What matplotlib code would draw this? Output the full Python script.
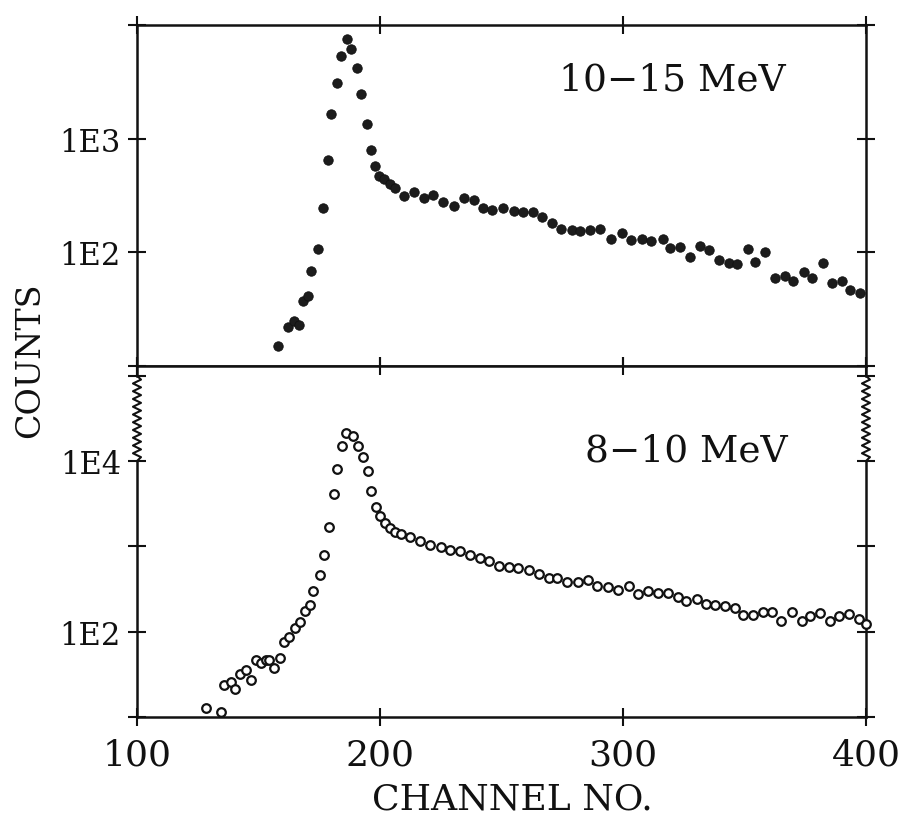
import numpy as np
import matplotlib
matplotlib.use("Agg")
import matplotlib.pyplot as plt
from matplotlib.transforms import blended_transform_factory

plt.rcParams['font.family'] = ['DejaVu Serif']

# 10-15 MeV spectrum (filled dots)
top_channel = [158, 162, 164.5, 166.5, 168.5, 170.5, 171.5, 174.5, 176.5, 178.5,
               180, 182.5, 184, 186.5, 188, 190.5, 192, 194.5, 196.5, 198,
               199.5, 201.5, 204, 206, 210, 214, 218, 222, 226, 230.5,
               234.5, 238.5, 242.5, 246, 250.5, 255, 259, 263, 266.5, 271,
               274.5, 279, 282.5, 286.5, 290.5, 295, 299.5, 303.5, 308, 311.5,
               316.5, 319.5, 323.5, 327.5, 331.5, 335.5, 339.5, 343.5, 347, 351.5,
               354.5, 358.5, 362.5, 366.5, 370, 374.5, 378, 382.5, 386, 390,
               393.5, 397.5]
top_counts = [15, 22, 25, 23, 37, 41, 69, 107, 247, 643,
              1640, 3080, 5330, 7520, 6120, 4150, 2490, 1350, 790, 580,
              473, 445, 401, 368, 312, 337, 303, 321, 277, 255,
              299, 286, 247, 236, 244, 229, 228, 228, 205, 181,
              162, 158, 155, 157, 160, 130, 147, 129, 131, 125,
              130, 110, 112, 91, 114, 104, 85, 81, 79, 107,
              82, 100, 60, 62, 56, 67, 60, 80, 54, 56,
              47, 44]

# 8-10 MeV spectrum (open circles)
bot_channel = [128.5, 134.5, 136, 138.5, 140.5, 142.5, 145, 147, 149, 151,
               153, 154.5, 156.5, 159, 160.5, 162.5, 165, 167, 169, 171,
               172.5, 175.5, 177, 179, 181, 182.5, 184.5, 186, 189, 191,
               193, 195, 196.5, 198.5, 200, 202, 204, 206, 208.5, 212.5,
               216.5, 220.5, 225, 229, 233, 237, 241, 245, 249, 253,
               257, 261.5, 265.5, 269.5, 273, 277, 281.5, 285.5, 289.5, 294,
               298, 302.5, 306, 310.5, 314.5, 318.5, 322.5, 326, 330.5, 334,
               338, 342, 346, 349.5, 353.5, 357.5, 361.5, 365, 369.5, 373.5,
               377, 381, 385, 389, 393, 397, 400]
bot_counts = [12.7, 11.5, 24, 26, 21.5, 32, 36, 27, 46, 43,
              46.5, 47, 38, 49, 75, 87, 111, 131, 174, 203,
              299, 456, 782, 1690, 4060, 8100, 15000, 21500, 19600, 14900,
              11300, 7550, 4460, 2910, 2260, 1900, 1650, 1470, 1400, 1300,
              1160, 1050, 984, 898, 871, 790, 735, 673, 596, 567,
              556, 528, 477, 426, 431, 379, 384, 400, 342, 331,
              308, 344, 274, 298, 284, 282, 258, 228, 244, 212,
              208, 202, 187, 155, 158, 169, 172, 135, 171, 132,
              153, 164, 132, 153, 160, 139, 123]

x_ticks = [100, 200, 300, 400]
x_labels = ['100', '200', '300', '400']
top_yticks = [1e1, 1e2, 1e3, 1e4]
top_ylabels = ['', '1E2', '1E3', '']
bot_yticks = [1e1, 1e2, 1e3, 1e4, 1e5]
bot_ylabels = ['', '1E2', '', '1E4', '']

fig = plt.figure(figsize=(9.06, 8.29), dpi=100)
ax1 = fig.add_axes([0.1512, 0.5573, 0.8046, 0.4113])
ax2 = fig.add_axes([0.1512, 0.1339, 0.8046, 0.4234])

ink = '#111111'

ax1.plot(top_channel, top_counts, 'o', ms=6.8, color='#1c1c1c', mec=ink, mew=0.6,
         clip_on=False, zorder=3)
ax2.plot(bot_channel, bot_counts, 'o', ms=6.2, mfc='white', mec=ink, mew=1.6,
         clip_on=False, zorder=3)

for ax in (ax1, ax2):
    ax.set_yscale('log')
    ax.set_xlim(100, 400)
    ax.set_xticks(x_ticks)
    ax.yaxis.set_minor_locator(matplotlib.ticker.NullLocator())
    ax.tick_params(which='major', direction='inout', length=13, width=1.5,
                   top=True, right=True, colors=ink, pad=5)
    for s in ax.spines.values():
        s.set_linewidth(1.8)
        s.set_color(ink)

ax1.set_ylim(10, 1e4)
ax1.set_yticks(top_yticks)
ax1.set_yticklabels(top_ylabels, fontsize=22)
ax1.set_xticklabels([])

ax2.set_ylim(10, 1.3e5)
ax2.set_yticks(bot_yticks)
ax2.set_yticklabels(bot_ylabels, fontsize=22)
ax2.set_xticklabels(x_labels, fontsize=26)
ax2.tick_params(axis='x', pad=8)

# broken-axis zigzag on the lower panel between 1E4 and 1E5
ax2.spines['left'].set_bounds(10, 1e4)
ax2.spines['right'].set_bounds(10, 1e4)
tr = blended_transform_factory(ax2.transAxes, ax2.transData)
zy = np.logspace(4, 5, 23)
amp = 0.0055
zz = np.where(np.arange(len(zy)) % 2 == 0, 0.0, 1.0) * 2 - 1
zz[0] = 0
zz[-1] = 0
for x0 in (0.0, 1.0):
    ax2.plot(x0 + amp * zz, zy, color=ink, lw=1.5, transform=tr, clip_on=False)
    ax2.plot([x0, x0], [1e5, 1.3e5], color=ink, lw=1.8, transform=tr,
             clip_on=False, solid_capstyle='projecting')

ax1.text(0.735, 0.839, '10\u221215 MeV', transform=ax1.transAxes,
         ha='center', va='center', fontsize=27, color=ink)
ax2.text(0.753, 0.758, '8\u221210 MeV', transform=ax2.transAxes,
         ha='center', va='center', fontsize=27, color=ink)

fig.text(0.033, 0.565, 'COUNTS', rotation=90, ha='center', va='center',
         fontsize=24, color=ink)
fig.text(0.565, 0.035, 'CHANNEL NO.', ha='center', va='center',
         fontsize=26, color=ink)

fig.savefig('out.png', dpi=100)
